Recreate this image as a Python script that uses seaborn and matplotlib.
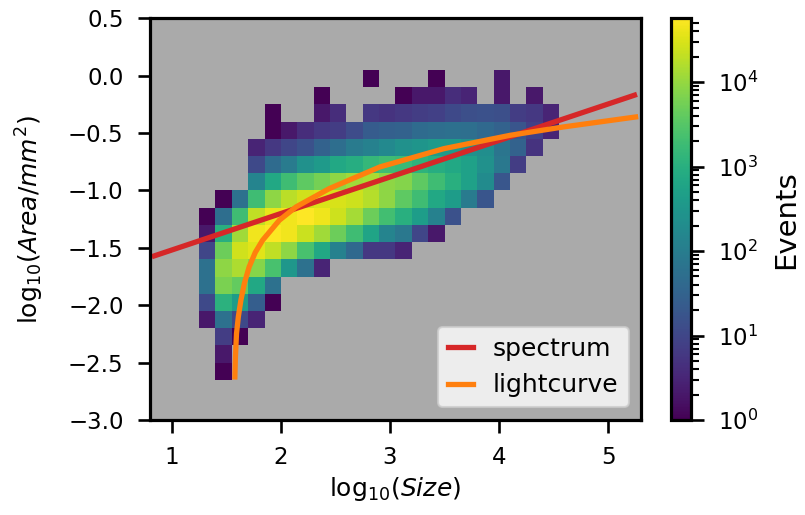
import numpy as np
import pandas as pd
import matplotlib
matplotlib.use("Agg")
import matplotlib.pyplot as plt
from matplotlib.colors import LogNorm
import seaborn as sns

# bins of the 2D histogram (log10 Size along x, log10 Area along y)
x_edges = np.round(np.arange(1.25, 4.56, 0.15), 3)      # 22 columns
y_edges = np.round(np.arange(-2.65, 0.06, 0.15), 3)     # 18 rows

# event counts, top row (highest y) first
counts = [
    [0, 0, 0, 0, 0, 0, 0, 0, 0, 0, 1, 0, 0, 0, 1, 0, 0, 0, 2, 0, 0, 0],
    [0, 0, 0, 0, 0, 0, 0, 1, 0, 0, 0, 0, 1, 2, 2, 4, 3, 0, 2, 0, 2, 0],
    [0, 0, 0, 0, 1, 0, 0, 2, 4, 0, 6, 5, 6, 7, 8, 11, 14, 15, 14, 7, 6, 3],
    [0, 0, 0, 0, 1, 2, 4, 6, 7, 12, 23, 27, 30, 45, 50, 55, 52, 40, 30, 18, 8, 3],
    [0, 0, 0, 3, 6, 10, 15, 30, 50, 90, 120, 170, 240, 300, 370, 370, 240, 210, 70, 30, 5, 0],
    [0, 0, 0, 11, 45, 90, 240, 370, 700, 900, 1500, 1900, 1700, 1200, 900, 700, 500, 240, 80, 7, 0, 0],
    [0, 0, 0, 140, 700, 1900, 3700, 5700, 8800, 12000, 14500, 8800, 7500, 3700, 1900, 1000, 500, 190, 19, 0, 0, 0],
    [0, 1, 57, 1900, 8800, 18000, 26000, 31000, 29000, 25000, 17000, 8800, 3700, 1900, 700, 400, 90, 18, 0, 0, 0, 0],
    [1, 50, 1900, 20000, 39000, 46000, 57000, 44000, 25000, 13000, 4800, 2100, 1000, 420, 120, 15, 0, 0, 0, 0, 0, 0],
    [2, 1000, 12000, 46000, 54000, 46000, 24000, 12000, 4800, 1900, 600, 140, 80, 10, 2, 0, 0, 0, 0, 0, 0, 0],
    [10, 4800, 26000, 35000, 20000, 8800, 2400, 700, 120, 40, 6, 6, 3, 0, 0, 0, 0, 0, 0, 0, 0, 0],
    [57, 8800, 15000, 7800, 2400, 330, 57, 3, 0, 0, 0, 0, 0, 0, 0, 0, 0, 0, 0, 0, 0, 0],
    [57, 6300, 4100, 700, 57, 0, 0, 0, 0, 0, 0, 0, 0, 0, 0, 0, 0, 0, 0, 0, 0, 0],
    [11, 1100, 400, 25, 1, 0, 0, 0, 0, 0, 0, 0, 0, 0, 0, 0, 0, 0, 0, 0, 0, 0],
    [2, 57, 11, 3, 0, 0, 0, 0, 0, 0, 0, 0, 0, 0, 0, 0, 0, 0, 0, 0, 0, 0],
    [0, 7, 1, 0, 0, 0, 0, 0, 0, 0, 0, 0, 0, 0, 0, 0, 0, 0, 0, 0, 0, 0],
    [0, 2, 0, 0, 0, 0, 0, 0, 0, 0, 0, 0, 0, 0, 0, 0, 0, 0, 0, 0, 0, 0],
    [0, 1, 0, 0, 0, 0, 0, 0, 0, 0, 0, 0, 0, 0, 0, 0, 0, 0, 0, 0, 0, 0],
]

# fitted relations
spectrum_x = [0.84, 5.24]
spectrum_y = [-1.57, -0.17]

lightcurve_x = [1.578, 1.583, 1.593, 1.61, 1.633, 1.665, 1.709, 1.765, 1.832,
                1.985, 2.138, 2.443, 2.908, 3.493, 4.104, 4.587, 5.25]
lightcurve_y = [-2.625, -2.45, -2.247, -2.1, -1.957, -1.81, -1.666, -1.54, -1.434,
                -1.26, -1.144, -0.984, -0.795, -0.636, -0.519, -0.447, -0.36]

# long table of bin centres with their weights
x_mid = (x_edges[:-1] + x_edges[1:]) / 2
y_mid = (y_edges[:-1] + y_edges[1:]) / 2
rows = []
for r, row in enumerate(counts[::-1]):
    for c, n in enumerate(row):
        if n > 0:
            rows.append({"size": x_mid[c], "area": y_mid[r], "events": n})
df = pd.DataFrame(rows)

sns.set_context("talk", rc={
    "axes.linewidth": 2.3,
    "xtick.major.size": 9, "ytick.major.size": 9,
    "xtick.major.width": 1.9, "ytick.major.width": 1.9,
    "ytick.minor.size": 5.5, "ytick.minor.width": 1.5,
})
plt.rcParams["xtick.major.pad"] = 10
plt.rcParams["ytick.major.pad"] = 10

fig = plt.figure(figsize=(8.05, 5.15), dpi=100)
ax = fig.add_axes([0.1863, 0.1845, 0.610, 0.780])
cax = fig.add_axes([0.834, 0.1845, 0.0248, 0.780])
ax.set_facecolor("#aaaaaa")

sns.histplot(data=df, x="size", y="area", weights="events",
             bins=(x_edges, y_edges), cmap="viridis",
             norm=LogNorm(vmin=1, vmax=max(map(max, counts))),
             vmin=None, vmax=None,
             cbar=True, cbar_ax=cax, ax=ax)

sns.lineplot(x=spectrum_x, y=spectrum_y, color="#d62728", lw=3.8,
             label="spectrum", sort=False, estimator=None, ax=ax)
sns.lineplot(x=lightcurve_x, y=lightcurve_y, color="#ff7f0e", lw=3.8,
             label="lightcurve", sort=False, estimator=None, ax=ax)

ax.set_xlim(0.8, 5.3)
ax.set_ylim(-3.0, 0.5)
ax.set_xticks([1, 2, 3, 4, 5])
ax.set_yticks(np.arange(-3.0, 0.51, 0.5))
ax.set_xlabel(r"log$_{10}$($Size$)", fontsize=18)
ax.set_ylabel(r"log$_{10}$($Area/mm^2$)", fontsize=18, labelpad=16)
ax.legend(loc="lower right", handlelength=1.0, fontsize=18)

cb = ax.collections[0].colorbar
cb.set_label("Events", fontsize=21, labelpad=10)
cb.outline.set_linewidth(2.3)

fig.savefig("out.png", dpi=100)
